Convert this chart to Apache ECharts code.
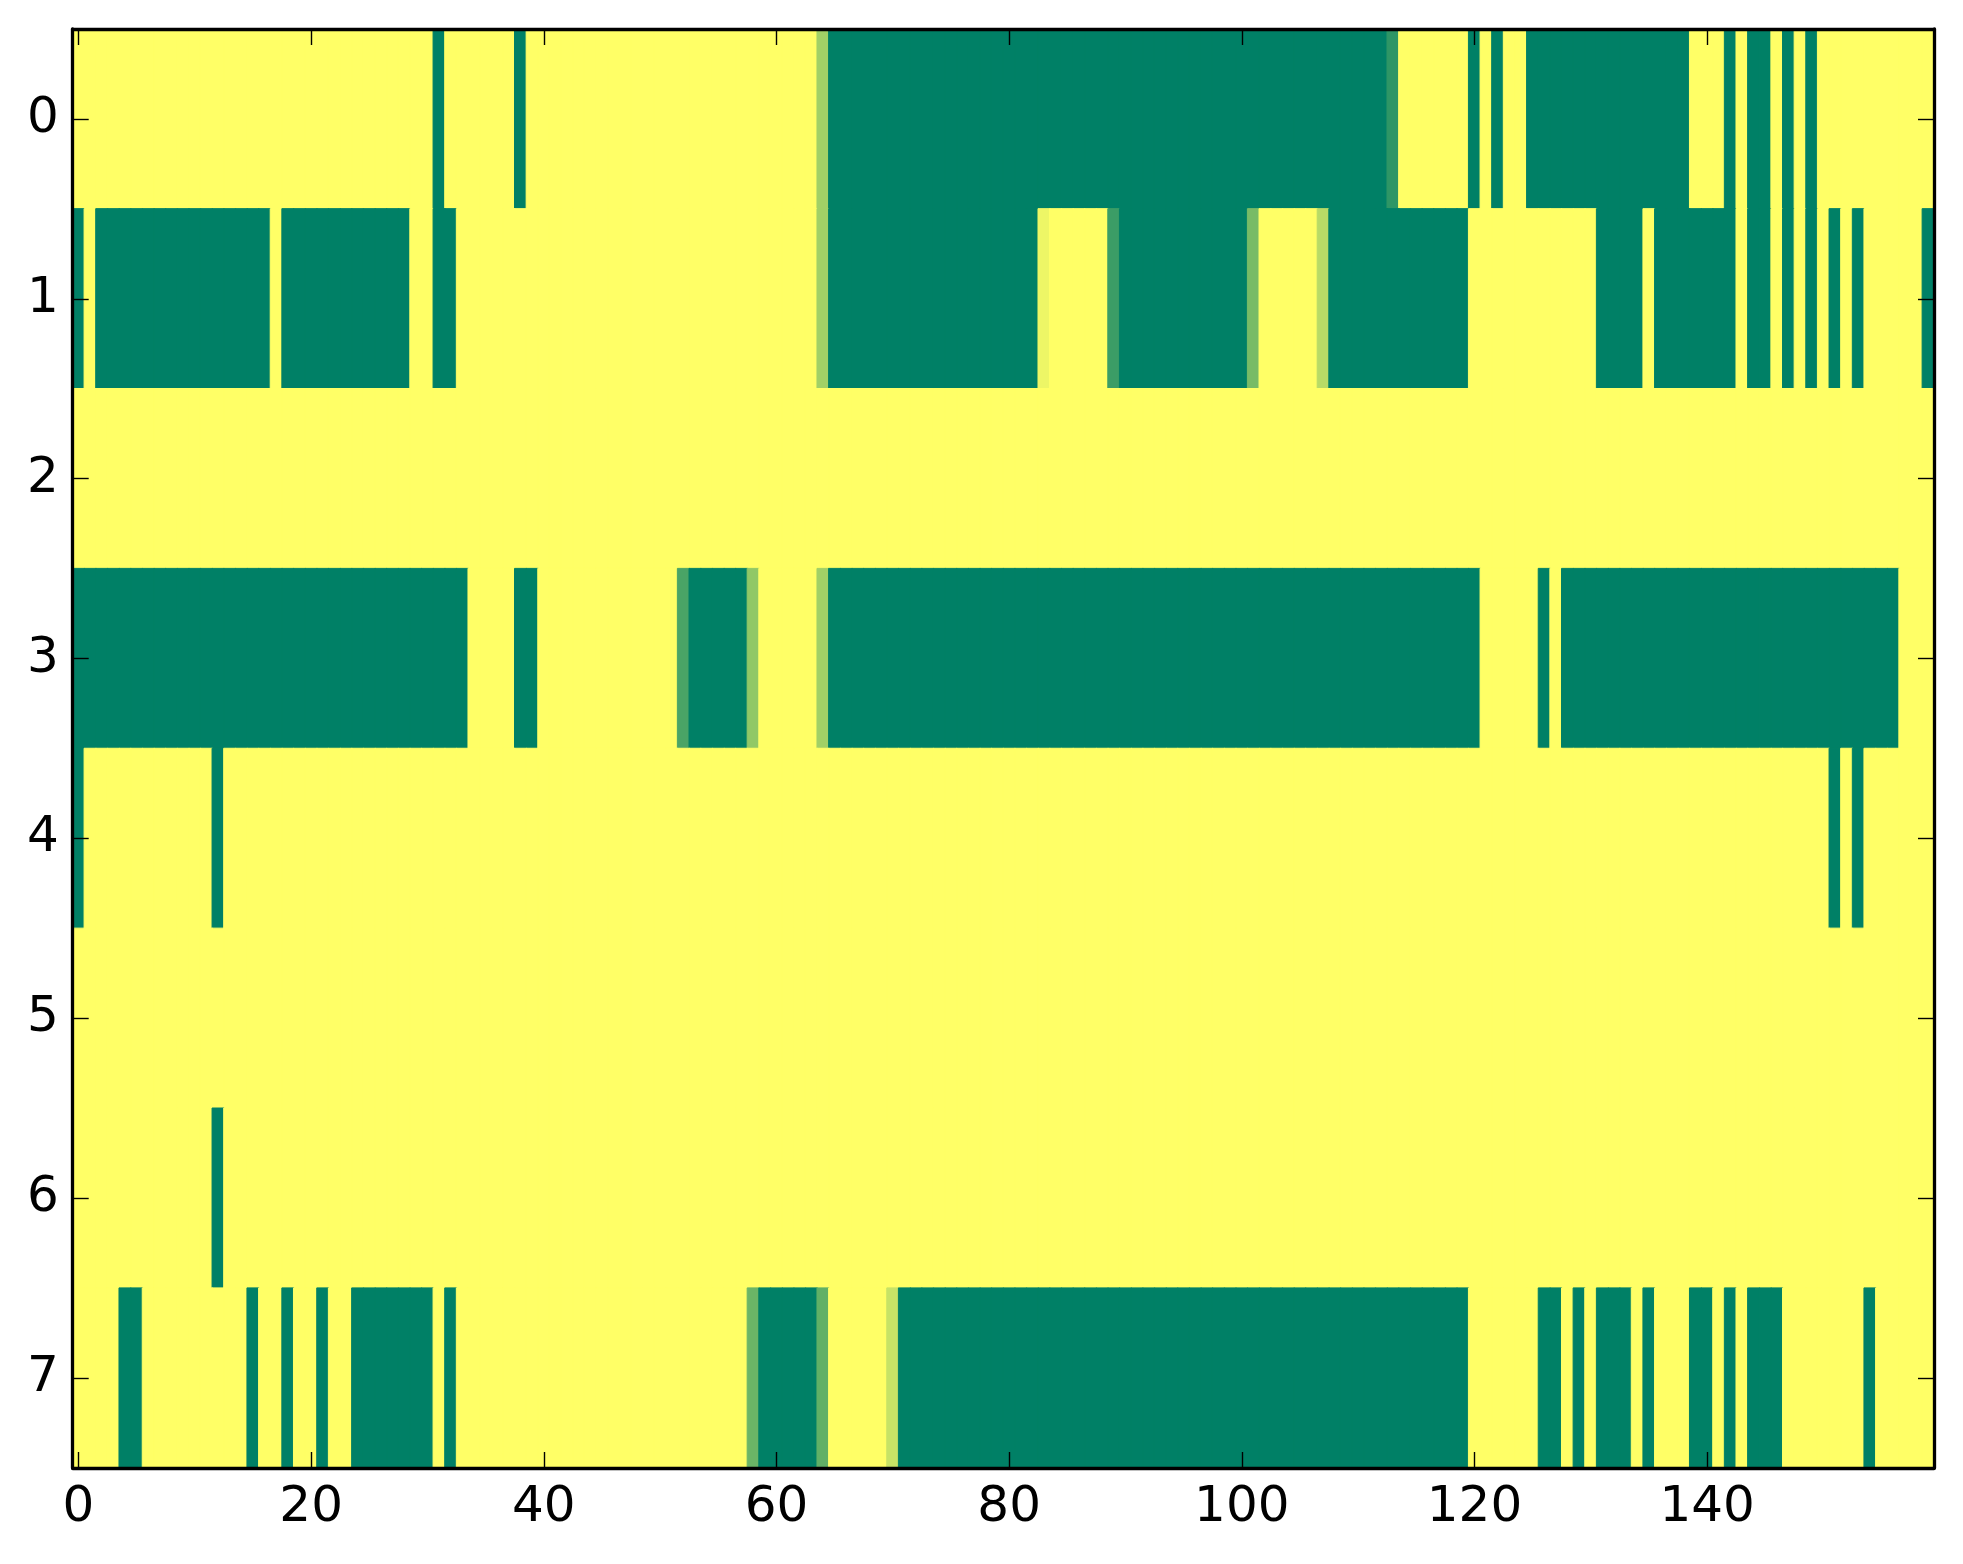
<!DOCTYPE html>
<html>
<head>
<meta charset="utf-8">
<script src="https://cdn.jsdelivr.net/npm/echarts@6/dist/echarts.min.js"></script>
<style>
  html, body { margin: 0; padding: 0; background: #ffffff; }
  #chart { width: 1963px; height: 1564px; }
</style>
</head>
<body>
<div id="chart"></div>
<script>
// ---- data (0 = green, 1 = yellow) ----
const nCols = 160;
const rowLabels = ['0', '1', '2', '3', '4', '5', '6', '7'];
const xTickLabels = ['0', '20', '40', '60', '80', '100', '120', '140'];

// runs of columns with value 0 (inclusive [start, end])
const row0Green = [[31,31],[38,38],[65,112],[120,120],[122,122],[125,138],[142,142],[144,145],[147,147],[149,149]];
const row1Green = [[0,0],[2,16],[18,28],[31,32],[65,82],[90,100],[108,119],[131,134],[136,142],[144,145],[147,147],[149,149],[151,151],[153,153],[159,159]];
const row2Green = [];
const row3Green = [[0,33],[38,39],[53,57],[65,120],[126,126],[128,156]];
const row4Green = [[0,0],[12,12],[151,151],[153,153]];
const row5Green = [];
const row6Green = [[12,12]];
const row7Green = [[4,5],[15,15],[18,18],[21,21],[24,30],[32,32],[59,63],[71,119],[126,127],[129,129],[131,133],[135,135],[139,140],[142,142],[144,146],[154,154]];

// single columns with intermediate values [column, value]
const row0Mixed = [[64,0.63],[113,0.18]];
const row1Mixed = [[64,0.63],[83,0.93],[89,0.23],[101,0.47],[107,0.72]];
const row2Mixed = [];
const row3Mixed = [[52,0.29],[58,0.57],[64,0.63]];
const row4Mixed = [];
const row5Mixed = [];
const row6Mixed = [];
const row7Mixed = [[58,0.42],[64,0.38],[70,0.78]];

const greenRows = [row0Green,row1Green,row2Green,row3Green,row4Green,row5Green,row6Green,row7Green];
const mixedRows = [row0Mixed,row1Mixed,row2Mixed,row3Mixed,row4Mixed,row5Mixed,row6Mixed,row7Mixed];

// 'summer' colour map: value 0 -> #008066, value 1 -> #ffff66
function summer(v) {
  const r = Math.round(255 * v);
  const g = Math.round(255 * (0.5 + 0.5 * v));
  const b = 102;
  return 'rgb(' + r + ',' + g + ',' + b + ')';
}

// ---- build heatmap table ----
const xCats = [];
for (let i = 0; i < nCols; i++) xCats.push(String(i));
const cells = [];
for (let r = 0; r < rowLabels.length; r++) {
  const row = new Array(nCols).fill(1);
  greenRows[r].forEach(([a, b]) => { for (let c = a; c <= b; c++) row[c] = 0; });
  mixedRows[r].forEach(([c, v]) => { row[c] = v; });
  row.forEach((v, c) => {
    const col = summer(v);
    cells.push({ value: [c, r, v], itemStyle: { color: col, borderColor: col, borderWidth: 1 } });
  });
}

const font = 'DejaVu Sans';
const showTick = (idx, val) => xTickLabels.indexOf(String(val)) >= 0;
const lineStyle = { color: '#000', width: 3.3 };
const tickStyle = { color: '#000', width: 1.4 };

const chart = echarts.init(document.getElementById('chart'), null, { renderer: 'canvas' });
chart.setOption({
  animation: false,
  backgroundColor: '#ffffff',
  grid: { left: 72.7, right: 29, top: 29, bottom: 96, containLabel: false },
  xAxis: [
    {
      type: 'category', data: xCats, position: 'bottom', z: 10,
      axisLine: { show: true, lineStyle: lineStyle },
      axisTick: { show: true, inside: true, length: 16, alignWithLabel: true, interval: showTick, lineStyle: tickStyle },
      axisLabel: { show: true, interval: showTick, margin: 15, fontFamily: font, fontSize: 50, color: '#000' },
      splitLine: { show: false }
    },
    {
      type: 'category', data: xCats, position: 'top', z: 10,
      axisLine: { show: true, lineStyle: lineStyle },
      axisTick: { show: true, inside: true, length: 16, alignWithLabel: true, interval: showTick, lineStyle: tickStyle },
      axisLabel: { show: false },
      splitLine: { show: false }
    }
  ],
  yAxis: [
    {
      type: 'category', data: rowLabels, inverse: true, position: 'left', z: 10,
      axisLine: { show: true, lineStyle: lineStyle },
      axisTick: { show: true, inside: true, length: 16, alignWithLabel: true, interval: 0, lineStyle: tickStyle },
      axisLabel: { show: true, interval: 0, margin: 14, fontFamily: font, fontSize: 50, color: '#000' },
      splitLine: { show: false }
    },
    {
      type: 'category', data: rowLabels, inverse: true, position: 'right', z: 10,
      axisLine: { show: true, lineStyle: lineStyle },
      axisTick: { show: true, inside: true, length: 16, alignWithLabel: true, interval: 0, lineStyle: tickStyle },
      axisLabel: { show: false },
      splitLine: { show: false }
    }
  ],
  series: [{
    type: 'heatmap',
    xAxisIndex: 0, yAxisIndex: 0,
    data: cells,
    progressive: 0,
    emphasis: { disabled: true }
  }]
});
</script>
</body>
</html>
